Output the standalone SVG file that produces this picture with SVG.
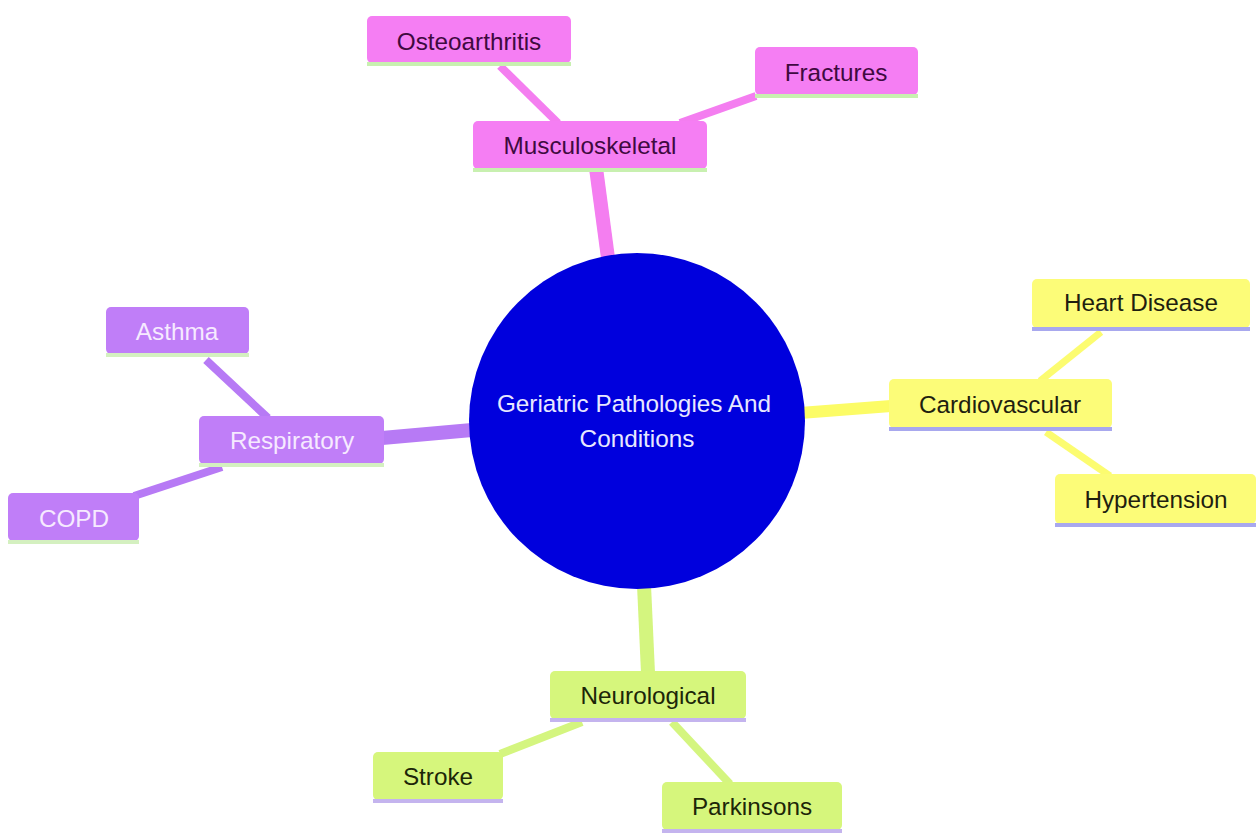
<svg xmlns="http://www.w3.org/2000/svg" width="1256" height="837" viewBox="0 0 1256 837">
<style>
text{font-family:"Liberation Sans",Arial,sans-serif;font-size:24.3px;text-anchor:middle;dominant-baseline:central}
.e{fill:none;stroke-linecap:butt}
.pk rect{fill:#f57ef3}.pk text{fill:#3f0a40}.pk line{stroke:#c8f0b0}
.yl rect{fill:#fcfc78}.yl text{fill:#1f1f10}.yl line{stroke:#a8a8ee}
.pu rect{fill:#c07ef8}.pu text{fill:#f6eaff}.pu line{stroke:#d4f0c0}
.gr rect{fill:#d6f67c}.gr text{fill:#1c2608}.gr line{stroke:#c4b4ee}
.n line{stroke-width:4}
</style>
<g id="connectors">
<line class="e" x1="608" y1="258" x2="596" y2="168" stroke="#f47ef0" stroke-width="14"/>
<line class="e" x1="500" y1="66" x2="558" y2="123" stroke="#f47ef0" stroke-width="8"/>
<line class="e" x1="756" y1="96" x2="680" y2="123" stroke="#f47ef0" stroke-width="8"/>
<line class="e" x1="800" y1="413" x2="891" y2="406" stroke="#fcfc66" stroke-width="12"/>
<line class="e" x1="1101" y1="332" x2="1040" y2="381" stroke="#fcfc70" stroke-width="7"/>
<line class="e" x1="1046" y1="432" x2="1110" y2="476" stroke="#fcfc70" stroke-width="7"/>
<line class="e" x1="472" y1="430" x2="382" y2="438" stroke="#b77af5" stroke-width="14"/>
<line class="e" x1="206" y1="360" x2="268" y2="418" stroke="#b77af5" stroke-width="8"/>
<line class="e" x1="134" y1="496" x2="222" y2="467" stroke="#b77af5" stroke-width="8"/>
<line class="e" x1="644" y1="585" x2="648" y2="673" stroke="#d4f57f" stroke-width="14"/>
<line class="e" x1="500" y1="754" x2="582" y2="722" stroke="#d4f57f" stroke-width="8"/>
<line class="e" x1="672" y1="722" x2="730" y2="784" stroke="#d4f57f" stroke-width="8"/>
</g>
<g id="root">
<circle cx="637" cy="421" r="168" fill="#0000dd"/>
<text x="634" y="403" fill="#e8e8ff">Geriatric Pathologies And</text>
<text x="637" y="438" fill="#e8e8ff">Conditions</text>
</g>
<g id="musculoskeletal" class="n pk"><rect x="473" y="121" width="234" height="48" rx="5"/><line x1="473" y1="170" x2="707" y2="170"/><text x="590" y="145">Musculoskeletal</text></g>
<g id="osteoarthritis" class="n pk"><rect x="367" y="16" width="204" height="47" rx="5"/><line x1="367" y1="64" x2="571" y2="64"/><text x="469" y="41">Osteoarthritis</text></g>
<g id="fractures" class="n pk"><rect x="755" y="47" width="163" height="48" rx="5"/><line x1="755" y1="96" x2="918" y2="96"/><text x="836" y="72">Fractures</text></g>
<g id="cardiovascular" class="n yl"><rect x="889" y="379" width="223" height="49" rx="5"/><line x1="889" y1="429" x2="1112" y2="429"/><text x="1000" y="404">Cardiovascular</text></g>
<g id="heart-disease" class="n yl"><rect x="1032" y="279" width="218" height="49" rx="5"/><line x1="1032" y1="329" x2="1250" y2="329"/><text x="1141" y="302">Heart Disease</text></g>
<g id="hypertension" class="n yl"><rect x="1055" y="474" width="201" height="50" rx="5"/><line x1="1055" y1="525" x2="1256" y2="525"/><text x="1156" y="499">Hypertension</text></g>
<g id="respiratory" class="n pu"><rect x="199" y="416" width="185" height="48" rx="5"/><line x1="199" y1="465" x2="384" y2="465"/><text x="292" y="440">Respiratory</text></g>
<g id="asthma" class="n pu"><rect x="106" y="307" width="143" height="47" rx="5"/><line x1="106" y1="355" x2="249" y2="355"/><text x="177" y="331">Asthma</text></g>
<g id="copd" class="n pu"><rect x="8" y="493" width="131" height="48" rx="5"/><line x1="8" y1="542" x2="139" y2="542"/><text x="74" y="518">COPD</text></g>
<g id="neurological" class="n gr"><rect x="550" y="671" width="196" height="48" rx="5"/><line x1="550" y1="720" x2="746" y2="720"/><text x="648" y="695">Neurological</text></g>
<g id="stroke" class="n gr"><rect x="373" y="752" width="130" height="48" rx="5"/><line x1="373" y1="801" x2="503" y2="801"/><text x="438" y="776">Stroke</text></g>
<g id="parkinsons" class="n gr"><rect x="662" y="782" width="180" height="48" rx="5"/><line x1="662" y1="831" x2="842" y2="831"/><text x="752" y="806">Parkinsons</text></g>
</svg>
